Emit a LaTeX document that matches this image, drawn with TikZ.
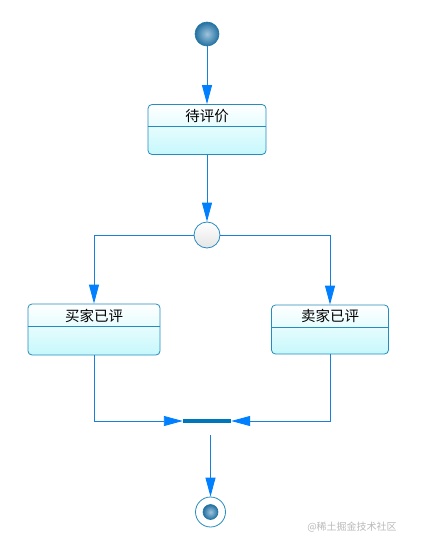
\documentclass[tikz,border=0pt]{standalone}
\usepackage{fontspec}
\newfontfamily\cjk{Noto Sans CJK SC}
\usetikzlibrary{positioning,arrows.meta}
\definecolor{flow}{RGB}{24,128,214}
\definecolor{tipc}{RGB}{0,128,255}
\definecolor{edgec}{RGB}{36,140,190}
\definecolor{cyanbg}{RGB}{198,248,252}
\definecolor{barc}{RGB}{0,118,186}
\definecolor{ballc}{RGB}{40,125,180}

\begin{document}
\begin{tikzpicture}[x=1pt, y=-1pt,
      font=\cjk\fontsize{14.5}{16}\selectfont,
      st/.style={draw=edgec, line width=0.8pt, rounded corners=4pt, top color=white, bottom color=cyanbg, inner sep=0pt},
      ttl/.style={inner sep=0pt, text=black},
      sep/.style={draw=edgec, line width=0.8pt},
      init/.style={circle, draw=edgec!85!black, line width=0.6pt, inner color=ballc!45!white, outer color=ballc!90!black, minimum size=24pt, inner sep=0pt},
      choice/.style={circle, draw=edgec, line width=0.8pt, top color=white, bottom color=gray!20, minimum size=26pt, inner sep=0pt},
      barbox/.style={fill=barc, minimum width=48pt, minimum height=4.5pt, inner sep=0pt},
      ar/.style={draw=flow, line width=0.9pt, -{Triangle[length=19pt, width=10pt, color=tipc]}},
      wmark/.style={font=\cjk\fontsize{10}{12}\selectfont, text=gray!55}
    ]
    \useasboundingbox (0,0) rectangle (421,548);

    % ===== start / first state =====
    \node[init] (start) at (207,34) {};
    \node[st, minimum width=118pt, minimum height=50pt] (wait) at (207,129.5) {};
    \node[ttl] at (207,116) {待评价};
    \draw[sep] ([yshift=-22.5pt]wait.north west) -- ([yshift=-22.5pt]wait.north east);

    % ===== branch =====
    \node[choice] (fork) at (207,235) {};

    \node[st, minimum width=132pt, minimum height=51pt] (buyer) at (94,329.5) {};
    \node[ttl] at (94,316) {买家已评};
    \draw[sep] ([yshift=-23pt]buyer.north west) -- ([yshift=-23pt]buyer.north east);

    \node[st, minimum width=117pt, minimum height=49pt] (seller) at (330,329.5) {};
    \node[ttl] at (330,316) {卖家已评};
    \draw[sep] ([yshift=-22.5pt]seller.north west) -- ([yshift=-22.5pt]seller.north east);

    % ===== join / end =====
    \node[barbox] (join) at (207,421) {};
    \node[circle, draw=edgec, line width=0.8pt, fill=white, minimum size=30pt, inner sep=0pt] (final) at (210.5,512) {};
    \node[init, minimum size=15pt] (finalin) at (final) {};

    % ===== flow =====
    \draw[ar] (start) -- (wait);
    \draw[ar] (wait) -- (fork);
    \draw[ar] (fork.west) -| (buyer.north);
    \draw[ar] (fork.east) -| (seller.north);
    \draw[ar] (buyer.south) |- (join.west);
    \draw[ar] (seller.south) |- (join.east);
    \draw[ar, shorten <=12pt] (join.south -| final) -- (final);

    % watermark
    \node[wmark] (wm) at (352,527) {@稀土掘金技术社区};
\end{tikzpicture}
\end{document}
